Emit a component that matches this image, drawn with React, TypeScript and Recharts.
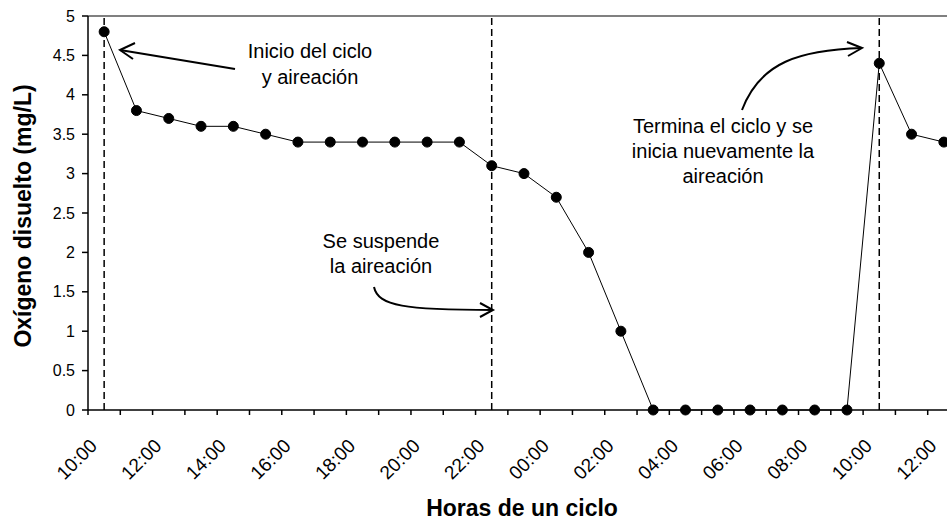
import { LineChart, Line, XAxis, YAxis, ReferenceLine } from "recharts";

const horas = [
  "10:00", "11:00", "12:00", "13:00", "14:00", "15:00", "16:00", "17:00", "18:00",
  "19:00", "20:00", "21:00", "22:00", "23:00", "00:00", "01:00", "02:00", "03:00",
  "04:00", "05:00", "06:00", "07:00", "08:00", "09:00", "10:00", "11:00", "12:00",
];

const oxigeno = [
  4.8, 3.8, 3.7, 3.6, 3.6, 3.5, 3.4, 3.4, 3.4, 3.4, 3.4, 3.4, 3.1, 3.0, 2.7, 2.0,
  1.0, 0, 0, 0, 0, 0, 0, 0, 4.4, 3.5, 3.4,
];

// indices where aeration starts / stops (dashed lines)
const eventos = [0, 12, 24];

const yTicks = [0, 0.5, 1, 1.5, 2, 2.5, 3, 3.5, 4, 4.5, 5];

const data = horas.map((h, i) => ({ i, hora: h, od: oxigeno[i] }));

// labels on every other hour, tick marks between categories (excel style)
const labelTicks = horas.map((_, i) => i).filter((i) => i % 2 === 0);
const markTicks = [...horas.map((_, i) => i - 0.5), horas.length - 0.5];
const xTicks = [...labelTicks, ...markTicks].sort((a, b) => a - b);

const FONT = '"Liberation Sans", Arial, sans-serif';

const XTick = (props: any) => {
  const { x, y, payload } = props;
  const v = payload.value;
  if (!Number.isInteger(v)) {
    return <line x1={x} y1={y} x2={x} y2={y + 5} stroke="#000" strokeWidth={1.5} />;
  }
  const tx = x - 6;
  const ty = y + 37;
  return (
    <text
      x={tx}
      y={ty}
      transform={`rotate(-45, ${tx}, ${ty})`}
      textAnchor="end"
      fontSize={19}
      fill="#000"
      fontFamily={FONT}
    >
      {horas[v]}
    </text>
  );
};

const App = () => {
  return (
    <div
      style={{
        position: "absolute",
        left: 0,
        top: 0,
        width: 947,
        height: 521,
        overflow: "hidden",
        background: "#fff",
        fontFamily: FONT,
      }}
    >
      <LineChart
        width={990}
        height={521}
        data={data}
        margin={{ top: 16, right: 30, bottom: 11, left: 0 }}
      >
        <XAxis
          dataKey="i"
          type="number"
          domain={[-0.5, horas.length - 0.5]}
          ticks={xTicks}
          interval={0}
          tick={<XTick />}
          tickLine={false}
          tickSize={0}
          tickMargin={0}
          height={100}
          axisLine={{ stroke: "#000", strokeWidth: 1.5 }}
        />
        <YAxis
          domain={[0, 5]}
          ticks={yTicks}
          interval={0}
          width={88}
          tickSize={6}
          tickMargin={7}
          tick={{ fill: "#000", fontSize: 16, fontFamily: FONT }}
          tickLine={{ stroke: "#000", strokeWidth: 1.5 }}
          axisLine={{ stroke: "#000", strokeWidth: 1.5 }}
        />
        <ReferenceLine y={5} stroke="#808080" strokeWidth={2} />
        {eventos.map((e) => (
          <ReferenceLine
            key={e}
            x={e}
            stroke="#000"
            strokeWidth={1.5}
            strokeDasharray="7 4"
          />
        ))}
        <Line
          type="linear"
          dataKey="od"
          stroke="#000"
          strokeWidth={1}
          dot={{ r: 5, fill: "#000", stroke: "#000", strokeWidth: 1 }}
          isAnimationActive={false}
        />
      </LineChart>
      <svg
        width={947}
        height={521}
        style={{ position: "absolute", left: 0, top: 0, pointerEvents: "none" }}
        fontFamily={FONT}
      >
        <g fill="#000" fontSize={20} textAnchor="middle">
          <text x={310} y={58}>Inicio del ciclo</text>
          <text x={310} y={84}>y aireación</text>
          <text x={381} y={248}>Se suspende</text>
          <text x={381} y={273}>la aireación</text>
          <text x={723} y={133}>Termina el ciclo y se</text>
          <text x={723} y={158}>inicia nuevamente la</text>
          <text x={723} y={183}>aireación</text>
        </g>
        <g fill="none" stroke="#000" strokeWidth={2}>
          <path d="M235 69 L120 50" />
          <path d="M135 43 L120 50 L133 59" />
          <path d="M374 287 C378 306, 405 310, 493 310" />
          <path d="M480 303 L493 310 L480 317" />
          <path d="M742 110 C760 62, 800 50, 862 48" />
          <path d="M847 42 L862 48 L848 56" />
        </g>
        <text
          x={522}
          y={516}
          textAnchor="middle"
          fontSize={23}
          fontWeight="bold"
          fill="#000"
        >
          Horas de un ciclo
        </text>
        <text
          transform="translate(31, 216) rotate(-90)"
          textAnchor="middle"
          fontSize={23}
          fontWeight="bold"
          fill="#000"
        >
          Oxígeno disuelto (mg/L)
        </text>
      </svg>
    </div>
  );
};

export default App;
